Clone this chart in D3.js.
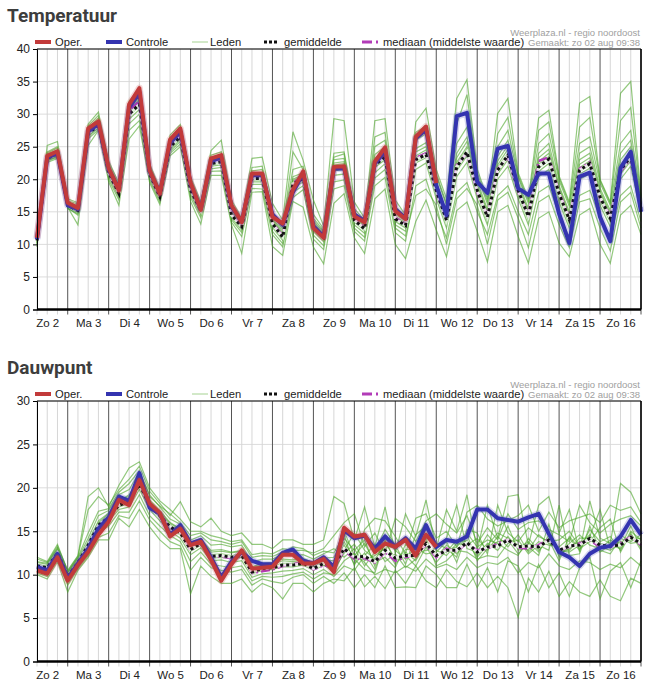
<html>
<head>
<meta charset="utf-8">
<script src="https://d3js.org/d3.v7.min.js"></script>
<style>
body { margin: 0; background: #fff; }
text { font-family: "Liberation Sans", Arial, sans-serif; }
</style>
</head>
<body>
<script>

// ---- data (6-hourly, from zo 2 aug 06:00) ----
var dayLabels = ["Zo 2","Ma 3","Di 4","Wo 5","Do 6","Vr 7","Za 8","Zo 9","Ma 10","Di 11","Wo 12","Do 13","Vr 14","Za 15","Zo 16"];
var tempTicks = [0,5,10,15,20,25,30,35,40];
var dewTicks = [0,5,10,15,20,25,30];

var tempOper = [11,23.6,24.3,16.4,15.6,27.8,28.9,21.7,18.3,31.5,34,21.4,17.8,26.1,27.8,19.5,15.3,23.2,23.7,16,
  13.4,20.9,20.9,14.2,13.2,18.4,21.2,12.5,11.0,21.9,22,14.3,13.4,22.7,24.9,15.1,13.9,26.5,28.1,19.4];
var tempCtrl = [10.8,23.3,24.0,16.0,15.4,27.3,28.5,21.5,18.5,31.0,33.3,21.2,17.9,25.6,27.3,19.3,15.4,22.8,23.4,15.8,
  13.5,20.6,20.6,14.6,13.0,18.0,20.9,12.8,11.2,21.6,21.7,14.6,13.6,22.4,24.3,15.4,14.0,26.3,27.6,19.1,
  14.5,29.7,30.2,19.6,17.9,24.7,25.1,18.6,17.6,20.9,20.9,14.7,10.2,20.4,21.0,14.2,10.5,21.7,24.2,15.0];
var tempMean = [10.6,23.2,23.9,16.0,15.2,27.0,28.3,21.0,17.8,30.0,31.5,20.8,17.3,25.0,26.5,18.3,15.2,22.4,22.7,14.5,
  12.7,20.1,20.1,13.2,11.1,19.3,20.1,12.7,11.1,21.6,21.8,13.7,12.4,22.2,23.4,13.9,12.9,23.0,23.8,18.3,
  13.7,21.9,24.2,18.3,14.2,21.4,23.7,18.3,14.3,21.9,23.1,17.8,13.8,21.4,22.4,17.3,14.0,21.4,23.5,15.5];
var tempMedian = [10.7,23.3,24.0,16.0,15.3,27.2,28.5,21.1,17.9,30.5,32.0,20.9,17.4,25.2,26.8,18.5,15.3,22.6,22.9,14.6,
  12.9,20.3,20.2,13.3,11.3,19.5,20.3,12.9,11.3,21.8,22.0,13.9,12.6,22.4,23.6,14.1,13.1,23.3,24.0,18.0,
  14.0,22.2,24.0,18.0,14.5,21.6,23.4,18.0,14.6,22.8,23.4,18.0,14.1,21.6,22.6,17.0,14.4,21.2,23.2,15.6];
// one row per time step, one column per ensemble member
var tempLeden = [
  [10.2,10.8,11.3,10.5,9.6,10.9,11.0,10.4,10.7,11.5,10.1,10.6,10.9,9.9],
  [23.0,23.5,24.2,23.1,22.6,23.8,23.3,22.9,23.6,25.2,23.0,23.4,24.0,22.8],
  [23.8,24.2,25.0,23.9,23.2,24.5,24.0,23.5,24.3,25.8,23.6,24.1,24.8,23.4],
  [15.9,16.2,16.7,16.0,15.6,16.4,16.1,15.8,16.3,17.0,15.7,16.1,16.5,15.5],
  [15.0,15.4,16.2,15.2,14.5,15.7,15.3,14.9,15.5,16.4,13.0,15.1,15.9,14.7],
  [26.8,27.3,28.2,27.0,26.2,27.6,27.1,26.7,27.4,28.5,25.2,27.0,27.9,26.5],
  [28.2,28.7,29.8,28.3,27.6,29.0,28.5,28.0,28.8,30.3,27.5,28.4,29.4,27.9],
  [20.8,21.3,22.4,21.0,20.0,21.6,21.1,20.6,21.4,22.8,19.6,21.0,22.0,20.4],
  [17.6,18.0,19.0,17.8,16.8,18.3,17.9,17.4,18.1,19.4,16.0,17.7,18.6,17.2],
  [29.8,30.6,31.6,30.0,27.5,31.0,30.3,29.2,30.8,32.0,26.2,29.9,31.3,28.5],
  [31.2,32.0,33.3,31.5,29.0,32.5,31.8,30.7,32.2,33.8,28.2,31.4,33.0,30.0],
  [20.6,21.0,22.0,20.8,19.8,21.3,20.9,20.4,21.1,22.4,19.5,20.7,21.6,20.2],
  [17.2,17.5,18.2,17.3,16.5,17.7,17.4,17.0,17.6,18.5,16.1,17.3,17.9,16.8],
  [24.8,25.3,26.3,25.0,24.0,25.6,25.1,24.6,25.4,26.8,23.6,25.0,25.9,24.3],
  [26.3,26.8,27.9,26.5,25.4,27.1,26.6,26.1,26.9,28.4,25.0,26.5,27.5,25.8],
  [18.1,18.6,19.7,18.3,17.2,18.9,18.4,17.9,18.7,20.4,16.6,18.2,19.3,17.6],
  [15.0,15.5,16.2,15.2,14.1,15.7,15.3,14.8,15.4,16.5,13.1,15.1,15.9,14.5],
  [22.2,22.7,23.7,22.4,21.2,23.0,22.5,22.0,22.8,24.4,20.6,22.3,23.3,21.6],
  [22.5,23.0,24.2,22.7,21.3,23.4,22.8,22.2,23.1,26.0,20.6,22.6,23.8,21.8],
  [14.3,14.8,16.0,14.5,13.4,15.2,14.6,14.1,14.9,16.8,13.0,14.4,15.6,13.8],
  [12.5,13.0,13.8,12.7,11.2,13.3,12.8,12.2,13.1,14.0,8.6,12.6,13.5,11.8],
  [19.9,20.4,21.8,20.1,18.6,20.8,20.2,19.6,20.6,23.2,18.0,20.0,21.3,19.2],
  [19.9,20.5,22.0,20.1,18.5,21.0,20.3,19.6,20.7,23.4,18.1,20.0,21.5,19.2],
  [13.0,13.6,15.0,13.2,11.5,14.0,13.4,12.6,13.8,16.3,9.7,13.1,14.5,12.0],
  [10.9,11.5,12.7,11.1,9.6,12.0,11.3,10.6,11.7,13.7,8.3,11.0,12.3,10.1],
  [19.0,19.8,21.5,19.3,17.2,20.4,19.5,18.6,20.0,27.3,16.6,19.2,24.2,18.0],
  [19.9,20.5,22.0,20.1,18.4,21.0,20.3,19.6,20.7,22.9,15.7,20.0,21.5,19.0],
  [12.4,13.1,14.6,12.7,10.8,13.6,12.9,12.0,13.3,16.8,9.6,12.6,14.0,11.4],
  [10.8,11.5,12.4,11.1,9.2,11.9,11.3,10.4,11.7,12.8,7.0,11.0,12.1,9.8],
  [21.3,22.2,24.0,21.6,18.5,23.0,21.8,20.6,22.5,29.3,16.3,21.4,23.4,19.6],
  [21.5,22.4,24.2,21.8,19.0,23.2,22.0,20.8,22.7,29.0,17.8,21.6,23.9,19.9],
  [13.4,14.1,15.5,13.7,12.0,14.6,13.9,13.0,14.3,16.5,11.0,13.6,15.0,12.5],
  [12.1,12.8,13.7,12.4,10.5,13.2,12.6,11.7,13.0,14.0,8.6,12.3,13.5,11.1],
  [21.8,22.8,25.0,22.2,19.0,23.8,22.5,21.0,23.2,29.0,17.0,22.0,26.5,20.2],
  [23.0,24.0,26.0,23.4,20.3,25.0,23.7,22.4,24.4,29.3,18.5,23.2,27.2,21.5],
  [13.5,14.3,15.8,13.9,11.8,14.9,14.1,13.0,14.6,16.8,10.0,13.7,15.3,12.5],
  [12.5,13.3,14.3,12.9,10.5,13.8,13.1,12.0,13.6,14.5,7.8,12.7,14.0,11.3],
  [22.5,23.6,26.0,23.0,19.0,24.7,23.3,21.5,24.2,28.8,13.5,22.8,27.2,17.5],
  [23.3,24.5,27.0,23.8,20.0,25.6,24.1,22.5,25.0,30.9,16.8,23.6,28.2,18.5],
  [17.8,18.8,20.5,18.3,15.0,19.6,18.5,17.0,19.2,21.5,12.2,18.1,20.8,16.0],
  [13.2,14.2,16.0,13.7,11.0,15.0,14.0,12.5,14.6,17.0,8.1,13.5,16.3,10.0],
  [21.3,22.6,25.5,21.9,18.0,24.0,22.2,20.4,23.3,32.4,15.2,21.7,28.5,17.0],
  [23.6,25.0,28.0,24.2,19.5,26.5,24.6,22.6,25.8,35.3,16.5,24.0,33.0,18.6],
  [17.8,18.9,20.5,18.3,15.0,19.7,18.6,17.0,19.2,21.6,12.0,18.1,21.0,16.0],
  [13.6,14.7,16.2,14.2,11.5,15.4,14.4,13.0,15.0,17.0,7.3,14.0,16.6,10.0],
  [20.8,22.2,25.0,21.4,17.5,23.5,21.8,20.0,22.8,30.1,15.0,21.2,27.0,16.8],
  [23.0,24.6,27.5,23.7,19.0,26.0,24.0,22.0,25.2,32.4,16.0,23.5,29.5,18.0],
  [17.7,18.9,20.3,18.3,15.0,19.6,18.6,17.0,19.2,21.0,11.2,18.0,20.6,14.0],
  [13.7,14.8,16.3,14.3,11.5,15.5,14.6,13.0,15.1,17.0,7.1,14.1,16.7,9.5],
  [21.2,22.7,25.5,21.9,18.0,24.0,22.3,20.4,23.3,29.4,14.0,21.7,27.5,16.5],
  [22.4,24.0,27.0,23.1,19.0,25.5,23.5,21.5,24.6,30.6,15.0,22.9,28.8,17.5],
  [17.2,18.4,19.8,17.8,14.5,19.0,18.1,16.5,18.7,20.5,10.2,17.6,20.2,13.0],
  [13.2,14.3,15.8,13.8,11.0,15.0,14.1,12.5,14.6,16.5,8.1,13.6,16.2,9.5],
  [20.8,22.3,25.5,21.4,17.5,24.0,21.8,20.0,23.0,31.7,14.5,21.2,28.0,16.5],
  [21.7,23.3,26.5,22.4,18.3,25.0,22.8,20.8,24.0,32.7,15.5,22.2,29.5,17.0],
  [16.7,17.9,19.4,17.3,14.0,18.6,17.6,16.0,18.2,20.0,10.0,17.1,19.8,12.5],
  [13.4,14.5,16.0,14.0,11.0,15.2,14.3,12.7,14.8,16.5,7.1,13.8,16.3,9.0],
  [20.8,22.2,25.5,21.4,17.5,24.0,21.8,20.0,23.0,33.2,14.5,21.2,29.0,16.5],
  [22.8,24.4,27.5,23.5,19.0,26.0,23.9,22.0,25.0,35.0,16.0,23.3,31.0,18.0],
  [15.0,16.0,17.0,15.5,13.5,16.5,15.7,14.6,16.2,17.5,11.5,15.3,17.2,12.5]
];

var dewOper = [10.5,10.1,12.0,9.3,11.1,12.6,14.6,16.1,18.6,18.0,20.9,18.2,17.1,14.4,15.3,13.4,13.8,11.7,9.3,11.2,
  12.8,10.7,10.8,10.9,12.3,12.3,11.3,11.3,11.8,10.3,15.4,14.4,14.6,12.6,13.6,13.2,14.0,12.2,14.6,13.2];
var dewCtrl = [10.9,10.5,12.4,9.6,11.3,13.0,15.3,16.6,19.0,18.5,21.7,17.7,17.0,14.6,15.7,13.6,14.0,12.0,9.7,11.5,
  12.6,11.6,11.2,11.2,12.5,12.9,11.6,11.3,12.0,10.9,15.1,14.2,14.5,13.0,14.4,13.2,14.2,13.0,15.7,13.2,
  14.0,13.8,14.4,17.5,17.5,16.5,16.3,16.1,16.6,17.0,14.7,12.6,12.0,11.0,12.4,13.1,13.3,14.4,16.3,14.6];
var dewMean = [11.0,10.8,12.5,9.8,11.4,13.4,15.7,16.6,18.0,18.4,20.4,18.0,16.8,15.5,14.8,12.9,13.6,12.1,12.2,12.0,
  12.2,10.3,10.7,10.8,11.1,11.1,11.3,10.7,11.3,11.0,13.0,12.0,12.1,11.5,12.8,11.9,12.2,12.2,13.6,12.2,
  12.8,12.8,13.7,12.6,13.2,13.3,14.0,13.2,13.3,13.2,14.0,12.8,13.3,13.4,14.2,13.4,13.3,13.4,14.3,13.6];
var dewMedian = [11.0,10.7,12.5,9.7,11.4,13.3,15.6,16.6,18.1,18.5,20.6,17.9,16.9,15.4,14.9,12.8,13.6,12.0,12.1,11.9,
  12.4,10.2,10.4,10.6,11.0,11.2,11.4,10.6,11.1,10.8,12.8,11.8,11.9,11.4,12.6,11.6,12.0,12.4,13.4,12.0,
  13.0,12.7,13.6,12.8,13.0,13.6,14.0,13.1,13.0,13.4,14.1,12.8,13.2,13.6,14.0,13.2,13.2,13.6,14.4,13.4];
var dewLeden = [
  [10.6,11.2,11.8,10.9,10.2,11.4,11.0,10.7,11.1,12.0,10.0,10.8,11.5,10.4],
  [10.4,11.0,11.4,10.7,9.8,11.2,10.8,10.5,10.9,11.5,9.5,10.6,11.3,10.1],
  [12.2,12.8,13.3,12.5,11.8,13.0,12.6,12.3,12.7,13.5,11.5,12.4,13.1,12.0],
  [9.6,10.1,10.5,9.8,8.8,10.2,9.9,9.5,10.0,10.4,8.0,9.7,10.3,9.2],
  [11.2,11.7,12.2,11.4,10.7,11.9,11.5,11.1,11.6,12.1,10.5,11.3,12.0,10.9],
  [13.0,13.8,19.0,13.2,12.2,14.2,13.4,12.8,13.6,17.5,12.0,13.1,14.8,12.5],
  [15.4,16.2,20.0,15.6,14.3,16.8,15.8,15.1,16.0,19.0,14.0,15.5,17.3,14.8],
  [16.4,17.1,17.8,16.6,14.8,17.4,16.8,16.2,17.0,18.0,14.0,16.5,17.6,15.6],
  [17.8,18.6,20.3,18.0,16.8,19.2,18.2,17.5,18.5,19.8,16.5,17.9,19.5,17.2],
  [18.2,19.0,22.3,18.4,16.5,19.8,18.6,17.8,19.2,21.0,15.5,18.3,20.5,17.2],
  [20.2,21.2,23.0,20.4,18.5,21.8,20.6,19.8,21.0,22.5,17.5,20.3,22.0,19.2],
  [17.8,18.6,20.0,18.0,16.3,19.2,18.2,17.5,18.4,19.6,15.5,17.9,19.0,16.8],
  [16.6,17.4,18.5,16.8,15.0,17.8,17.0,16.2,17.2,18.2,14.0,16.7,17.9,15.6],
  [15.3,16.0,17.5,15.5,13.8,16.4,15.7,15.0,15.9,16.8,13.0,15.4,17.0,14.5],
  [14.6,15.3,16.4,14.8,13.3,15.8,15.0,14.2,15.2,18.4,13.0,14.7,16.0,13.8],
  [12.7,13.5,15.0,12.9,10.5,14.0,13.2,12.3,13.6,16.1,7.8,12.8,14.5,11.5],
  [13.4,14.1,15.0,13.6,12.0,14.5,13.8,13.1,14.0,15.5,11.0,13.5,14.8,12.6],
  [12.0,12.8,14.5,12.1,10.8,13.4,12.3,11.6,12.6,16.5,9.8,11.9,14.0,11.2],
  [12.1,12.9,14.2,12.2,10.5,13.5,12.4,11.7,12.7,15.0,9.0,12.0,13.8,11.0],
  [11.8,12.6,13.8,12.0,10.3,13.2,12.2,11.4,12.5,14.5,9.0,11.9,13.5,10.8],
  [12.0,12.8,14.0,12.2,10.6,13.4,12.4,11.6,12.7,14.8,9.5,12.1,13.8,11.0],
  [10.1,10.9,12.3,10.3,8.8,11.4,10.5,9.7,10.8,13.5,8.0,10.2,12.0,9.3],
  [10.5,11.3,12.5,10.7,9.5,11.8,10.9,10.1,11.1,13.5,9.0,10.6,12.2,9.8],
  [10.6,11.4,12.4,10.8,9.2,11.8,11.0,10.2,11.2,13.0,8.5,10.7,12.1,9.7],
  [10.9,11.8,13.0,11.1,9.0,12.3,11.3,10.4,11.6,14.0,7.2,11.0,12.6,9.8],
  [10.9,11.7,12.8,11.1,9.7,12.2,11.3,10.5,11.5,14.0,9.0,11.0,13.2,10.1],
  [11.1,11.9,12.8,11.3,10.0,12.3,11.5,10.7,11.7,13.5,9.0,11.2,13.0,10.3],
  [10.5,11.3,12.5,10.7,9.0,11.8,10.9,10.0,11.1,13.5,8.0,10.6,12.2,9.5],
  [11.1,11.9,13.0,11.3,9.8,12.4,11.5,10.6,11.7,14.0,9.0,11.2,12.7,10.2],
  [10.5,12.0,14.5,11.2,9.0,13.0,10.8,9.8,11.6,19.0,9.5,10.2,12.5,10.0],
  [12.5,14.2,16.0,13.4,10.2,12.0,15.0,11.0,13.8,18.2,9.3,12.8,14.6,11.6],
  [13.5,12.8,17.0,11.2,8.5,13.0,12.2,10.5,11.8,14.0,10.8,14.8,11.0,12.4],
  [11.6,14.0,13.2,12.5,10.0,11.0,13.6,12.2,10.6,17.8,8.6,12.8,15.2,11.4],
  [12.2,11.0,14.8,10.6,8.5,12.6,11.4,13.5,10.2,13.2,9.8,11.8,16.5,10.0],
  [13.0,14.6,12.4,13.8,11.0,15.2,12.0,11.5,14.0,17.8,8.4,13.4,16.2,10.6],
  [11.2,12.8,16.5,11.8,8.5,13.4,10.8,12.4,11.5,12.5,10.5,13.0,14.4,10.2],
  [12.6,11.8,15.5,12.2,8.6,11.2,13.5,10.8,12.9,17.0,9.0,14.0,12.4,11.0],
  [11.6,13.2,13.8,11.0,8.5,14.6,12.5,11.8,13.0,14.4,11.0,12.0,16.5,10.4],
  [13.8,14.8,16.2,13.2,11.0,15.6,12.8,14.2,12.4,18.6,9.3,13.5,17.0,11.8],
  [12.0,12.8,17.0,11.4,10.0,13.6,13.0,11.0,12.6,13.0,8.5,12.4,14.2,10.8],
  [13.4,12.2,15.8,12.8,8.5,13.0,14.2,11.6,13.8,17.5,10.6,12.6,15.0,11.2],
  [12.4,13.6,14.8,13.2,8.5,12.0,18.0,12.8,11.4,15.0,9.2,14.0,13.2,10.6],
  [14.0,13.4,16.8,14.6,11.2,15.2,13.0,12.6,14.8,19.2,8.6,13.8,17.2,12.0],
  [12.2,14.2,13.6,11.6,8.5,14.8,12.6,11.8,13.2,12.8,10.2,12.0,18.0,10.8],
  [13.6,12.8,15.4,13.0,10.8,12.4,14.6,12.2,14.0,18.0,8.5,13.4,16.4,11.4],
  [12.8,14.4,14.0,13.8,8.0,18.0,13.2,12.0,13.6,14.2,9.8,14.8,15.6,11.2],
  [14.4,13.2,17.0,14.0,11.6,14.8,15.6,13.6,12.8,19.0,8.5,14.2,16.2,12.0],
  [13.0,14.6,15.2,12.4,11.0,13.8,12.8,14.0,12.2,19.2,5.1,13.4,16.8,10.2],
  [13.8,12.6,16.0,13.6,8.0,15.4,13.2,12.4,14.2,13.4,9.6,12.8,18.0,11.4],
  [12.6,13.8,16.2,13.0,11.2,14.4,12.2,13.4,12.8,18.0,8.0,14.6,15.0,10.8],
  [14.6,13.4,15.2,14.2,8.5,13.8,15.8,12.8,14.0,19.0,10.4,13.6,17.2,12.4],
  [12.4,13.2,14.6,12.8,10.2,14.0,12.0,18.0,11.6,14.8,7.5,13.0,15.4,11.0],
  [13.0,14.2,13.8,12.6,7.5,15.0,13.6,12.2,14.4,17.5,9.2,12.8,16.2,10.6],
  [13.8,12.8,18.0,13.4,10.8,13.2,14.6,12.4,13.0,12.6,8.0,14.2,16.6,11.6],
  [14.0,15.2,16.0,14.6,12.0,14.4,13.4,15.6,13.8,18.5,7.5,14.2,17.0,11.4],
  [13.2,13.8,14.8,12.6,7.2,17.5,13.0,12.8,15.4,14.2,9.4,13.6,16.0,10.6],
  [12.8,14.4,15.8,13.4,10.4,13.0,14.0,12.4,16.4,13.6,7.5,13.2,18.0,11.2],
  [13.6,12.8,16.4,13.0,11.4,14.6,13.2,14.2,12.6,20.5,7.0,13.8,17.4,10.8],
  [14.2,15.0,16.8,14.6,8.5,13.8,15.6,13.6,14.8,19.5,9.6,14.0,17.8,12.0],
  [13.4,14.0,15.6,13.2,11.6,14.6,13.0,13.8,12.8,17.0,9.0,14.2,16.0,11.0]
];

// ---- layout ----
var start = new Date(Date.UTC(2020, 7, 2, 6));
var times = tempMean.map(function(d, i) { return d3.utcHour.offset(start, 6 * i); });
var end = times[times.length - 1];

var svg = d3.select("body").append("svg")
            .attr("width", 660)
            .attr("height", 691);

var x = d3.scaleUtc()
          .domain([start, end])
          .range([37, 641]);

var labelTimes = dayLabels.map(function(d, k) { return new Date(Date.UTC(2020, 7, 2 + k, 12)); });

function members(rows) {
  return d3.range(rows[0].length).map(function(m) {
    return rows.map(function(r) { return r[m]; });
  });
}

function drawChart(c) {
  var g = svg.append("g").attr("transform", "translate(0," + c.offset + ")");
  var top = 49, bottom = 309.5;

  var y = d3.scaleLinear()
            .domain([0, c.ticks[c.ticks.length - 1]])
            .range([bottom, top]);

  var line = d3.line()
               .defined(function(d) { return d != null; })
               .x(function(d, i) { return x(times[i]); })
               .y(function(d) { return y(d); });

  // title
  g.append("text")
   .attr("x", 7).attr("y", 22)
   .attr("font-weight", "bold")
   .attr("font-size", 19)
   .attr("fill", "#3d3d3d")
   .style("font-family", "Roboto, sans-serif")
   .text(c.title);

  // credits
  g.append("text")
   .attr("x", 640).attr("y", 36)
   .attr("text-anchor", "end")
   .attr("font-size", 9.5)
   .attr("fill", "#a0a0a0")
   .text("Weerplaza.nl - regio noordoost");
  g.append("text")
   .attr("x", 640).attr("y", 46)
   .attr("text-anchor", "end")
   .attr("font-size", 9.5)
   .attr("fill", "#a0a0a0")
   .text("Gemaakt: zo 02 aug 09:38");

  // horizontal grid
  g.selectAll(".hgrid")
   .data(c.ticks)
   .enter().append("line")
   .attr("x1", 37).attr("x2", 641)
   .attr("y1", function(d) { return y(d); })
   .attr("y2", function(d) { return y(d); })
   .attr("stroke", "#dcdcdc");

  // 6-hour grid, darker at midnight
  var sixHours = d3.utcHour.every(6).range(start, d3.utcHour.offset(end, 1));
  var light = sixHours.filter(function(d) { return d.getUTCHours() != 0; });
  var dark = sixHours.filter(function(d) { return d.getUTCHours() == 0; });
  g.selectAll(".vlight")
   .data(light)
   .enter().append("line")
   .attr("x1", function(d) { return x(d); })
   .attr("x2", function(d) { return x(d); })
   .attr("y1", top).attr("y2", bottom + 5)
   .attr("stroke", "#d6d6d6");
  g.selectAll(".vdark")
   .data(dark)
   .enter().append("line")
   .attr("x1", function(d) { return x(d); })
   .attr("x2", function(d) { return x(d); })
   .attr("y1", top).attr("y2", bottom + 5)
   .attr("stroke", "#555");

  // ensemble members
  g.selectAll(".lid")
   .data(members(c.leden))
   .enter().append("path")
   .attr("d", line)
   .attr("fill", "none")
   .attr("stroke", "rgb(75,165,40)")
   .attr("stroke-opacity", 0.6)
   .attr("stroke-width", 1.2);

  // median
  g.append("path").attr("d", line(c.median))
   .attr("fill", "none").attr("stroke", "#b23cb8")
   .attr("stroke-width", 2.5).attr("stroke-dasharray", "9,3,2,3");

  // mean
  g.append("path").attr("d", line(c.mean))
   .attr("fill", "none").attr("stroke", "#fff").attr("stroke-opacity", 0.8)
   .attr("stroke-width", 3);
  g.append("path").attr("d", line(c.mean))
   .attr("fill", "none").attr("stroke", "#111")
   .attr("stroke-width", 3).attr("stroke-dasharray", "3,3");

  // control and operational runs
  [[c.ctrl, "#3434b0"], [c.oper, "#c23a3a"]].forEach(function(s) {
    g.append("path").attr("d", line(s[0]))
     .attr("fill", "none").attr("stroke", s[1]).attr("stroke-opacity", 0.2)
     .attr("stroke-width", 7).attr("stroke-linejoin", "round");
    g.append("path").attr("d", line(s[0]))
     .attr("fill", "none").attr("stroke", s[1])
     .attr("stroke-width", 4).attr("stroke-linejoin", "round");
  });

  // frame
  g.append("line").attr("x1", 37).attr("x2", 641).attr("y1", top).attr("y2", top)
   .attr("stroke", "#000").attr("stroke-width", 1);
  g.append("line").attr("x1", 641).attr("x2", 641).attr("y1", top).attr("y2", bottom)
   .attr("stroke", "#000").attr("stroke-width", 1.5);

  // axes
  var yAxis = g.append("g")
               .attr("transform", "translate(37,0)")
               .call(d3.axisLeft(y).tickValues(c.ticks).tickSize(4).tickPadding(3));
  yAxis.selectAll("text").attr("font-size", 12).attr("fill", "#222")
       .attr("font-family", "'Liberation Sans', Arial, sans-serif");
  yAxis.select(".domain").attr("stroke", "#000");

  var xAxis = g.append("g")
               .attr("transform", "translate(0," + bottom + ")")
               .call(d3.axisBottom(x).tickValues(labelTimes)
                       .tickFormat(function(d, k) { return dayLabels[k]; })
                       .tickSize(0).tickPadding(9));
  xAxis.selectAll("text").attr("font-size", 11.5).attr("fill", "#222")
       .attr("font-family", "'Liberation Sans', Arial, sans-serif");
  xAxis.select(".domain").remove();
  g.append("line").attr("x1", 37).attr("x2", 641).attr("y1", bottom).attr("y2", bottom)
   .attr("stroke", "#000").attr("stroke-width", 2.5);

  // legend
  var ly = 42;
  var leg = [
    {x1: 35, x2: 51, tx: 55, label: "Oper.", color: "#c23a3a", w: 4, dash: null},
    {x1: 106, x2: 122, tx: 126, label: "Controle", color: "#3434b0", w: 4, dash: null},
    {x1: 192, x2: 208, tx: 210, label: "Leden", color: "rgb(165,210,145)", w: 1, dash: null},
    {x1: 264, x2: 279, tx: 284, label: "gemiddelde", color: "#111", w: 3, dash: "3,2"},
    {x1: 362, x2: 379, tx: 383, label: "mediaan (middelste waarde)", color: "#b23cb8", w: 3, dash: "10,4,2,3"}
  ];
  leg.forEach(function(l) {
    g.append("line").attr("x1", l.x1).attr("x2", l.x2).attr("y1", ly).attr("y2", ly)
     .attr("stroke", l.color).attr("stroke-width", l.w)
     .attr("stroke-dasharray", l.dash);
    g.append("text").attr("x", l.tx).attr("y", ly + 4)
     .attr("font-size", 11.2).attr("fill", "#222")
     .text(l.label);
  });
}

drawChart({offset: 0, title: "Temperatuur", ticks: tempTicks,
           oper: tempOper, ctrl: tempCtrl, mean: tempMean, median: tempMedian, leden: tempLeden});
drawChart({offset: 352, title: "Dauwpunt", ticks: dewTicks,
           oper: dewOper, ctrl: dewCtrl, mean: dewMean, median: dewMedian, leden: dewLeden});

</script>
</body>
</html>
